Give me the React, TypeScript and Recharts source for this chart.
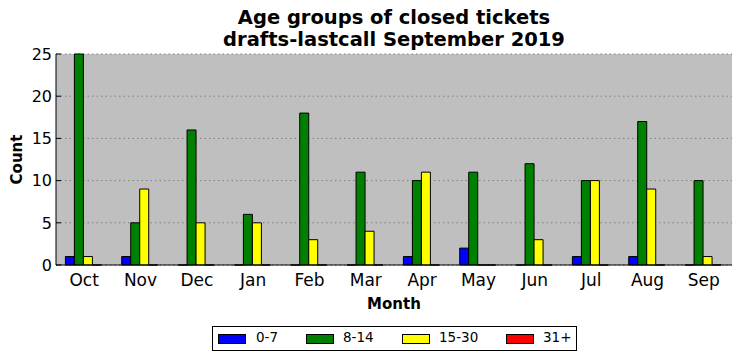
import React from 'react';
import { BarChart, Bar, XAxis, YAxis, CartesianGrid } from 'recharts';

const MONTHS = ['Oct', 'Nov', 'Dec', 'Jan', 'Feb', 'Mar', 'Apr', 'May', 'Jun', 'Jul', 'Aug', 'Sep'];
const AGE_0_7 = [1, 1, 0, 0, 0, 0, 1, 2, 0, 1, 1, 0];
const AGE_8_14 = [25, 5, 16, 6, 18, 11, 10, 11, 12, 10, 17, 10];
const AGE_15_30 = [1, 9, 5, 5, 3, 4, 11, 0, 3, 10, 9, 1];
const AGE_31_PLUS = [0, 0, 0, 0, 0, 0, 0, 0, 0, 0, 0, 0];
const Y_TICKS = [0, 5, 10, 15, 20, 25];

const SERIES = [
  { key: 'a', name: '0-7', color: '#0000ff', values: AGE_0_7 },
  { key: 'b', name: '8-14', color: '#008000', values: AGE_8_14 },
  { key: 'c', name: '15-30', color: '#ffff00', values: AGE_15_30 },
  { key: 'd', name: '31+', color: '#ff0000', values: AGE_31_PLUS },
];

const data = MONTHS.map((m, i) => {
  const row: any = { month: m };
  SERIES.forEach((s) => (row[s.key] = s.values[i]));
  return row;
});

const FONT = '"DejaVu Sans", sans-serif';
const Y_TICK_MARGIN = 4;

const BarShape = (props: any) => {
  const { x, y, width, height, fill } = props;
  const h = Math.max(height || 0, 0);
  const d = `M${x},${y} h${width} v${h} h${-width} Z`;
  return <path d={d} fill={fill} stroke="#000" strokeWidth={1} />;
};

const YTick = (props: any) => {
  const { x, y, payload } = props;
  return (
    <g>
      <text x={x} y={y} dy="0.36em" textAnchor="end" fontSize={16} fontFamily={FONT} fill="#000">
        {payload.value}
      </text>
      <line x1={x + Y_TICK_MARGIN} x2={x + Y_TICK_MARGIN + 5} y1={y} y2={y} stroke="#000" strokeWidth={1} />
    </g>
  );
};

const YLabel = (props: any) => {
  const vb = props.viewBox || { x: 0, y: 0, width: 0, height: 0 };
  const cx = vb.x + 17;
  const cy = vb.y + vb.height / 2;
  return (
    <text
      x={cx}
      y={cy}
      transform={`rotate(-90, ${cx}, ${cy})`}
      textAnchor="middle"
      dy="0.35em"
      fontSize={15}
      fontWeight="bold"
      fontFamily={FONT}
      fill="#000"
    >
      Count
    </text>
  );
};

const legendItems = [
  { left: 5, textLeft: 43 },
  { left: 93, textLeft: 130 },
  { left: 189, textLeft: 226 },
  { left: 293, textLeft: 330 },
];

export default function App() {
  return (
    <div style={{ position: 'absolute', left: 0, top: 0, width: 742, height: 361, background: '#fff', fontFamily: FONT }}>
      <div
        style={{
          position: 'absolute',
          left: 56,
          top: 7,
          width: 676,
          textAlign: 'center',
          fontSize: 19.5,
          lineHeight: '21.5px',
          fontWeight: 'bold',
          color: '#000',
        }}
      >
        <div>Age groups of closed tickets</div>
        <div>drafts-lastcall September 2019</div>
      </div>
      <BarChart
        width={742}
        height={361}
        data={data}
        margin={{ top: 54, right: 10, bottom: 52, left: 0 }}
        barCategoryGap="16.67%"
        barGap={0}
      >
        <CartesianGrid
          vertical={false}
          fill="#bfbfbf"
          fillOpacity={1}
          stroke="#808080"
          strokeDasharray="1.5 3"
        />
        <XAxis
          dataKey="month"
          tickLine={false}
          tickSize={0}
          tickMargin={9}
          height={44}
          axisLine={{ stroke: '#000', strokeWidth: 1 }}
          tick={{ fontSize: 17, fontFamily: FONT, fill: '#000' }}
          interval={0}
          label={{ value: 'Month', position: 'insideBottom', offset: 0, fontSize: 15, fontWeight: 'bold', fontFamily: FONT, fill: '#000' }}
        />
        <XAxis
          xAxisId="top"
          dataKey="month"
          orientation="top"
          mirror
          height={0}
          tickSize={5}
          interval={0}
          tickFormatter={() => ''}
          tickLine={{ stroke: '#000' }}
          axisLine={{ stroke: '#000', strokeWidth: 1 }}
        />
        <YAxis
          width={56}
          domain={[0, 25]}
          ticks={Y_TICKS}
          tickLine={false}
          tickSize={0}
          tickMargin={Y_TICK_MARGIN}
          axisLine={{ stroke: '#000', strokeWidth: 1 }}
          tick={<YTick />}
          label={<YLabel />}
        />
        <YAxis
          yAxisId="right"
          orientation="right"
          mirror
          width={0}
          domain={[0, 25]}
          ticks={Y_TICKS}
          tickSize={5}
          tickFormatter={() => ''}
          tickLine={{ stroke: '#000' }}
          axisLine={{ stroke: '#000', strokeWidth: 1 }}
        />
        {SERIES.map((s) => (
          <Bar
            key={s.key}
            dataKey={s.key}
            name={s.name}
            fill={s.color}
            shape={<BarShape />}
            isAnimationActive={false}
          />
        ))}
      </BarChart>
      <div
        style={{
          position: 'absolute',
          left: 212,
          top: 326,
          width: 363,
          height: 23,
          border: '1px solid #000',
          background: '#fff',
        }}
      >
        {SERIES.map((s, i) => (
          <React.Fragment key={s.key}>
            <div
              style={{
                position: 'absolute',
                left: legendItems[i].left,
                top: 7,
                width: 26,
                height: 8,
                background: s.color,
                border: '1px solid #000',
              }}
            />
            <div
              style={{
                position: 'absolute',
                left: legendItems[i].textLeft,
                top: 3,
                fontSize: 13.5,
                lineHeight: '15px',
                color: '#000',
              }}
            >
              {s.name}
            </div>
          </React.Fragment>
        ))}
      </div>
    </div>
  );
}
